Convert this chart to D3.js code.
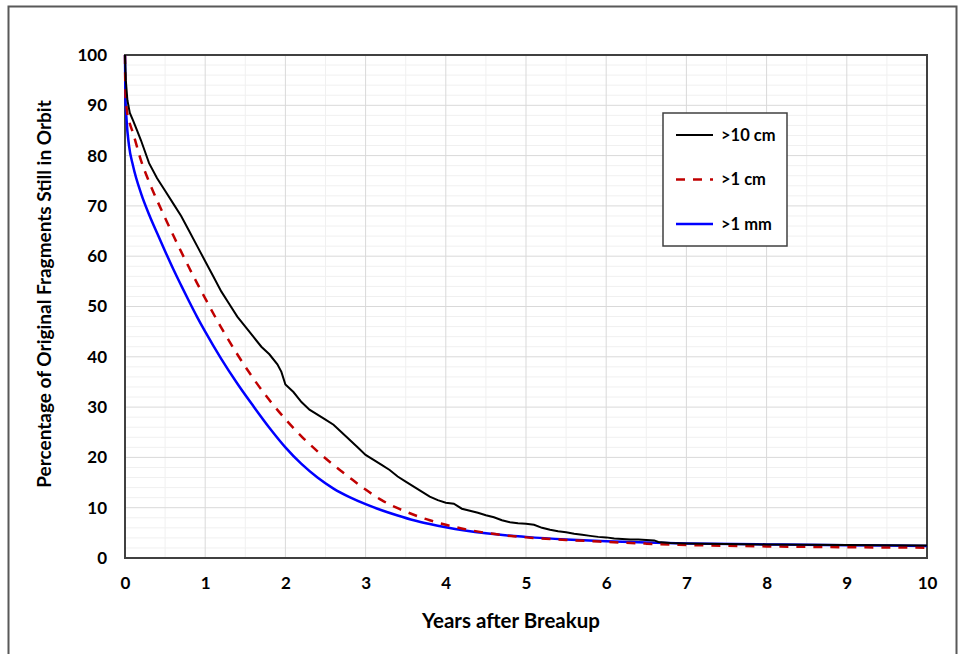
<!DOCTYPE html>
<html>
<head>
<meta charset="utf-8">
<script src="https://cdn.jsdelivr.net/npm/d3@7"></script>
<style>
  body { margin: 0; background: #fff; }
  text { font-family: Lato, "Open Sans", sans-serif; font-weight: bold; }
</style>
</head>
<body>
<script>
// data
const years10cm = [0, 0.01, 0.03, 0.06, 0.1, 0.15, 0.2, 0.3, 0.4, 0.5, 0.6, 0.7, 0.8, 0.9, 1.0, 1.1, 1.2, 1.3, 1.4, 1.5, 1.6, 1.7, 1.8, 1.9, 1.95, 2.0, 2.1, 2.2, 2.3, 2.4, 2.5,
  2.6, 2.7, 2.8, 2.9, 3.0, 3.1, 3.2, 3.3, 3.4, 3.5, 3.6, 3.7, 3.8, 3.9, 4.0, 4.1, 4.2, 4.3, 4.4, 4.5, 4.6, 4.7, 4.8, 4.9, 5.0,
  5.1, 5.2, 5.3, 5.4, 5.5, 5.6, 5.7, 5.8, 5.9, 6.0, 6.1, 6.2, 6.3, 6.4, 6.5, 6.6, 6.65, 6.8, 7.0, 8.0, 9.0, 10.0];
const pct10cm = [100, 95, 91, 88.5, 87, 85, 83, 78.5, 75.5, 73, 70.5, 68, 65, 62, 59, 56, 53, 50.5, 48, 46, 44, 42, 40.5, 38.5, 37, 34.5, 33, 31, 29.5, 28.5, 27.5,
  26.5, 25, 23.5, 22, 20.5, 19.5, 18.5, 17.5, 16.2, 15.2, 14.2, 13.2, 12.2, 11.5, 11, 10.8, 9.8, 9.4, 9.0, 8.5, 8.1, 7.5, 7.1, 6.9, 6.8,
  6.6, 6.0, 5.6, 5.3, 5.1, 4.8, 4.6, 4.4, 4.2, 4.1, 3.9, 3.8, 3.7, 3.7, 3.6, 3.5, 3.2, 3.0, 2.9, 2.7, 2.6, 2.5];

const years1cm = [0, 0.005, 0.02, 0.05, 0.1, 0.2, 0.3, 0.4, 0.5, 0.6, 0.7, 0.8, 0.9, 1.0, 1.2, 1.4, 1.6, 1.8, 2.0, 2.2, 2.4, 2.6, 2.8, 3.0,
  3.2, 3.4, 3.6, 3.8, 4.0, 4.5, 5.0, 5.5, 6.0, 6.5, 7, 8, 9, 10];
const pct1cm = [100, 93, 89.5, 87, 84.5, 79, 74.8, 71.1, 67.6, 64.2, 60.9, 57.7, 54.6, 51.6, 45.8, 40.5, 35.7, 31.4, 27.6, 24.2, 21.2, 18.5, 16, 13.6,
  11.5, 9.9, 8.6, 7.5, 6.6, 5.0, 4.1, 3.6, 3.2, 2.85, 2.6, 2.3, 2.15, 2.05];

const years1mm = [0, 0.005, 0.02, 0.05, 0.1, 0.2, 0.3, 0.4, 0.5, 0.6, 0.7, 0.8, 0.9, 1.0, 1.2, 1.4, 1.6, 1.8, 2.0, 2.2, 2.4, 2.6, 2.8, 3.0,
  3.2, 3.4, 3.6, 3.8, 4.0, 4.5, 5.0, 5.5, 6.0, 6.5, 7, 8, 9, 10];
const pct1mm = [100, 92, 87, 82, 78, 72.5, 68.3, 64.6, 61, 57.5, 54.2, 51, 47.9, 45, 39.6, 34.7, 30.2, 25.9, 22.0, 18.7, 16.0, 13.8, 12.1, 10.7,
  9.5, 8.45, 7.5, 6.75, 6.1, 4.9, 4.2, 3.7, 3.35, 3.1, 2.9, 2.7, 2.55, 2.4];

const seriesNames = [">10 cm", ">1 cm", ">1 mm"];
const xTicks = [0, 1, 2, 3, 4, 5, 6, 7, 8, 9, 10];
const yTicks = [0, 10, 20, 30, 40, 50, 60, 70, 80, 90, 100];

const W = 965, H = 654;
const pLeft = 125, pTop = 55, pRight = 927, pBottom = 558;

const svg = d3.select("body").append("svg")
  .attr("width", W)
  .attr("height", H);

// outer frame
svg.append("rect")
  .attr("x", 8.5).attr("y", 6.5)
  .attr("width", 948).attr("height", 670)
  .attr("fill", "none")
  .attr("stroke", "#595959")
  .attr("stroke-width", 2);

const x = d3.scaleLinear().domain([0, 10]).range([pLeft, pRight]);
const y = d3.scaleLinear().domain([0, 100]).range([pBottom, pTop]);

// minor grid
svg.append("g").selectAll("line")
  .data(d3.range(0.5, 10, 1))
  .join("line")
  .attr("x1", d => x(d)).attr("x2", d => x(d))
  .attr("y1", pTop).attr("y2", pBottom)
  .attr("stroke", "#f0f0f0");
svg.append("g").selectAll("line")
  .data(d3.range(2, 100, 2).filter(d => d % 10 != 0))
  .join("line")
  .attr("y1", d => y(d)).attr("y2", d => y(d))
  .attr("x1", pLeft).attr("x2", pRight)
  .attr("stroke", "#f0f0f0");

// major grid
svg.append("g").selectAll("line")
  .data(xTicks.slice(1, -1))
  .join("line")
  .attr("x1", d => x(d)).attr("x2", d => x(d))
  .attr("y1", pTop).attr("y2", pBottom)
  .attr("stroke", "#d9d9d9");
svg.append("g").selectAll("line")
  .data(yTicks.slice(1, -1))
  .join("line")
  .attr("y1", d => y(d)).attr("y2", d => y(d))
  .attr("x1", pLeft).attr("x2", pRight)
  .attr("stroke", "#d9d9d9");

// plot border
svg.append("rect")
  .attr("x", pLeft).attr("y", pTop)
  .attr("width", pRight - pLeft).attr("height", pBottom - pTop)
  .attr("fill", "none")
  .attr("stroke", "#404040")
  .attr("stroke-width", 2);

// axes (labels only)
const xAxis = d3.axisBottom(x).tickValues(xTicks).tickSize(0).tickPadding(19);
svg.append("g")
  .attr("transform", "translate(0," + pBottom + ")")
  .call(xAxis)
  .call(g => g.select(".domain").remove())
  .selectAll("text")
  .attr("font-size", "17px")
  .attr("fill", "#000");

const yAxis = d3.axisLeft(y).tickValues(yTicks).tickSize(0).tickPadding(18);
svg.append("g")
  .attr("transform", "translate(" + pLeft + ",0)")
  .call(yAxis)
  .call(g => g.select(".domain").remove())
  .selectAll("text")
  .attr("font-size", "17px")
  .attr("fill", "#000");

// axis titles
svg.append("text")
  .attr("x", 511)
  .attr("y", 628)
  .attr("text-anchor", "middle")
  .attr("font-size", "20.5px")
  .text("Years after Breakup");

svg.append("text")
  .attr("transform", "translate(51,294) rotate(-90)")
  .attr("text-anchor", "middle")
  .attr("font-size", "19px")
  .text("Percentage of Original Fragments Still in Orbit");

// curves
const lineJagged = d3.line().x(d => x(d[0])).y(d => y(d[1]));
const lineSmooth = d3.line().x(d => x(d[0])).y(d => y(d[1])).curve(d3.curveMonotoneX);

svg.append("path")
  .datum(d3.zip(years1mm, pct1mm))
  .attr("d", lineSmooth)
  .attr("fill", "none")
  .attr("stroke", "#0000ff")
  .attr("stroke-width", 2.5);

svg.append("path")
  .datum(d3.zip(years1cm, pct1cm))
  .attr("d", lineSmooth)
  .attr("fill", "none")
  .attr("stroke", "#c00000")
  .attr("stroke-width", 2.5)
  .attr("stroke-dasharray", "9,8");

svg.append("path")
  .datum(d3.zip(years10cm, pct10cm))
  .attr("d", lineJagged)
  .attr("fill", "none")
  .attr("stroke", "#000")
  .attr("stroke-width", 2);

// legend
const legend = svg.append("g");
legend.append("rect")
  .attr("x", 663).attr("y", 113)
  .attr("width", 124).attr("height", 133)
  .attr("fill", "#fff")
  .attr("stroke", "#404040")
  .attr("stroke-width", 1.5);

const legColors = ["#000", "#c00000", "#0000ff"];
const legDash = [null, "9,8", null];
const legWidth = [2, 2.5, 2.5];
seriesNames.forEach(function(name, i) {
  const ly = 135 + i * 44.5;
  legend.append("line")
    .attr("x1", 676).attr("x2", 713)
    .attr("y1", ly).attr("y2", ly)
    .attr("stroke", legColors[i])
    .attr("stroke-width", legWidth[i])
    .attr("stroke-dasharray", legDash[i]);
  legend.append("text")
    .attr("x", 721).attr("y", ly + 5.5)
    .attr("font-size", "16.5px")
    .text(name);
});
</script>
</body>
</html>
